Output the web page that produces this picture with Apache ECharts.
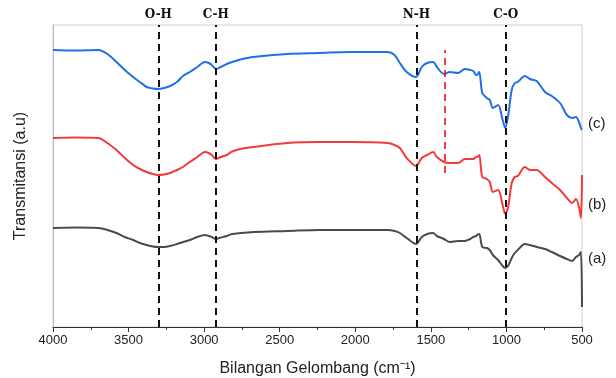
<!DOCTYPE html>
<html>
<head>
<meta charset="utf-8">
<script src="https://cdn.jsdelivr.net/npm/echarts@6/dist/echarts.min.js"></script>
<style>
  html, body { margin: 0; padding: 0; background: #fff; }
  #chart { width: 616px; height: 378px; }
</style>
</head>
<body>
<div id="chart"></div>
<script>
// FTIR spectra: wavenumber (cm^-1) and transmittance (arbitrary units, offset per sample)
const wavenumber = [4000, 3850, 3700, 3640, 3580, 3525, 3470, 3425, 3380, 3340,
  3305, 3265, 3225, 3180, 3140, 3095, 3045, 2995, 2970, 2950,
  2922, 2890, 2850, 2815, 2760, 2675, 2450, 2235, 2035, 1785,
  1740, 1705, 1660, 1598, 1560, 1525, 1485, 1460, 1413, 1375,
  1320, 1275, 1240, 1220, 1200, 1195, 1180, 1160, 1130, 1110,
  1090, 1055, 1025, 1008, 990, 965, 945, 925, 878, 845,
  800, 745, 700, 645, 600, 565, 540, 520, 507, 500];

const sampleA = [99, 99.5, 99, 97, 94, 90, 87, 84, 82, 80.5,
  80, 80, 81, 83, 85, 87, 90, 92, 91, 90,
  88, 89.5, 91, 93, 94, 95, 96, 97, 97, 97,
  96, 94, 89, 83, 90, 93, 94, 91, 88, 85,
  86, 86, 88, 90, 91, 92, 93, 80, 79, 77,
  72, 67, 61, 59, 61, 69, 74, 77, 83, 82,
  80, 78, 75, 71, 68, 66, 70, 72, 75, 20];

const sampleB = [189, 189.5, 189, 184, 177, 169, 162, 158, 155, 153,
  152, 152.5, 154, 157, 160, 165, 170, 175, 174, 172,
  168, 170, 172, 175.5, 178, 180, 184, 185, 185, 184,
  182, 179, 169, 161, 169, 172, 175, 170, 165, 164,
  164, 168, 168, 168, 170, 170, 172, 150, 148, 145,
  135, 137, 122, 113, 119, 144, 150, 151, 160, 157,
  157, 150, 144, 137, 129, 124, 128, 120, 109, 152];

const sampleC = [277, 276.5, 277, 273, 265, 257, 250, 245, 240, 238.5,
  238, 239, 241, 245, 251, 255, 260, 265, 264, 262,
  258, 260, 263, 265, 267.5, 270, 273, 274, 275, 275,
  272, 264, 255, 250, 260, 264, 265, 260, 253, 255,
  254, 258, 257, 256, 252, 252, 255, 234, 229, 227,
  219, 222, 207, 199, 210, 237, 244, 245, 251, 248,
  246, 235, 231, 224, 212, 209, 210, 205, 199, 197];

// Functional-group bands marked with dashed lines
const bandNames = ['O-H', 'C-H', 'N-H', 'C-O'];
const bandPositions = [3303, 2923, 1595, 1005];
const sulfonylName = 'S=O';
const sulfonylPosition = 1410;
const sulfonylRange = [154, 277];

const sampleLabels = ['(a)', '(b)', '(c)'];

const pairs = (ys) => wavenumber.map((w, i) => [w, ys[i]]);

const chart = echarts.init(document.getElementById('chart'), null, { renderer: 'canvas' });

const bandLabelStyle = {
  show: true,
  position: 'end',
  distance: 4,
  color: '#111',
  fontFamily: 'DejaVu Serif',
  fontWeight: 'bold',
  fontSize: 12
};

const lineBase = { type: 'line', showSymbol: false, smooth: 0.3, z: 3 };

chart.setOption({
  animation: false,
  backgroundColor: '#fff',
  grid: {
    left: 53, right: 34, top: 25, bottom: 51,
    outerBoundsMode: 'none', containLabel: false,
    show: true, borderColor: '#d0d0d0', borderWidth: 1
  },
  xAxis: {
    type: 'value',
    inverse: true,
    min: 500,
    max: 4000,
    interval: 500,
    name: 'Bilangan Gelombang (cm\u207B\u00B9)',
    nameLocation: 'middle',
    nameGap: 34,
    nameTextStyle: { fontFamily: 'Liberation Sans', fontSize: 16, color: '#222' },
    axisLine: { show: true, onZero: false, lineStyle: { color: '#333', width: 1.2 } },
    axisTick: { show: true, inside: false, length: 5, lineStyle: { color: '#333' } },
    minorTick: { show: true, splitNumber: 2, length: 3, lineStyle: { color: '#333' } },
    axisLabel: { fontFamily: 'Liberation Sans', fontSize: 13, color: '#222', margin: 7, formatter: (v) => String(v) },
    splitLine: { show: false }
  },
  yAxis: {
    type: 'value',
    min: 0,
    max: 302,
    name: 'Transmitansi (a.u)',
    nameLocation: 'middle',
    nameGap: 24,
    nameTextStyle: { fontFamily: 'Liberation Sans', fontSize: 16, color: '#222' },
    axisLine: { show: true, lineStyle: { color: '#bbb' } },
    axisTick: { show: false },
    axisLabel: { show: false },
    splitLine: { show: false }
  },
  series: [
    Object.assign({}, lineBase, {
      name: '(a)',
      data: pairs(sampleA),
      lineStyle: { color: '#4a4a4a', width: 2 },
      itemStyle: { color: '#4a4a4a' },
      markLine: {
        silent: true,
        symbol: ['none', 'none'],
        lineStyle: { color: '#111', type: [7, 5], width: 2 },
        label: bandLabelStyle,
        data: bandNames.map((n, i) => ({ xAxis: bandPositions[i], label: Object.assign({}, bandLabelStyle, { formatter: n }) }))
          .concat([{ xAxis: sulfonylPosition, lineStyle: { opacity: 0 }, label: Object.assign({}, bandLabelStyle, { formatter: sulfonylName }) }])
      }
    }),
    Object.assign({}, lineBase, {
      name: '(b)',
      data: pairs(sampleB),
      lineStyle: { color: '#f23a3a', width: 2 },
      itemStyle: { color: '#f23a3a' },
      markLine: {
        silent: true,
        symbol: ['none', 'none'],
        lineStyle: { color: '#ee1111', type: [7, 5], width: 1.6 },
        label: { show: false },
        data: [[{ coord: [sulfonylPosition, sulfonylRange[0]] }, { coord: [sulfonylPosition, sulfonylRange[1]] }]]
      }
    }),
    Object.assign({}, lineBase, {
      name: '(c)',
      data: pairs(sampleC),
      lineStyle: { color: '#1f6fe8', width: 2 },
      itemStyle: { color: '#1f6fe8' }
    })
  ],
  graphic: [
    { type: 'text', left: 588, top: 251, style: { text: sampleLabels[0], font: '15px "Liberation Sans"', fill: '#222' } },
    { type: 'text', left: 588, top: 197, style: { text: sampleLabels[1], font: '15px "Liberation Sans"', fill: '#222' } },
    { type: 'text', left: 588, top: 116, style: { text: sampleLabels[2], font: '15px "Liberation Sans"', fill: '#222' } }
  ]
});
</script>
</body>
</html>
